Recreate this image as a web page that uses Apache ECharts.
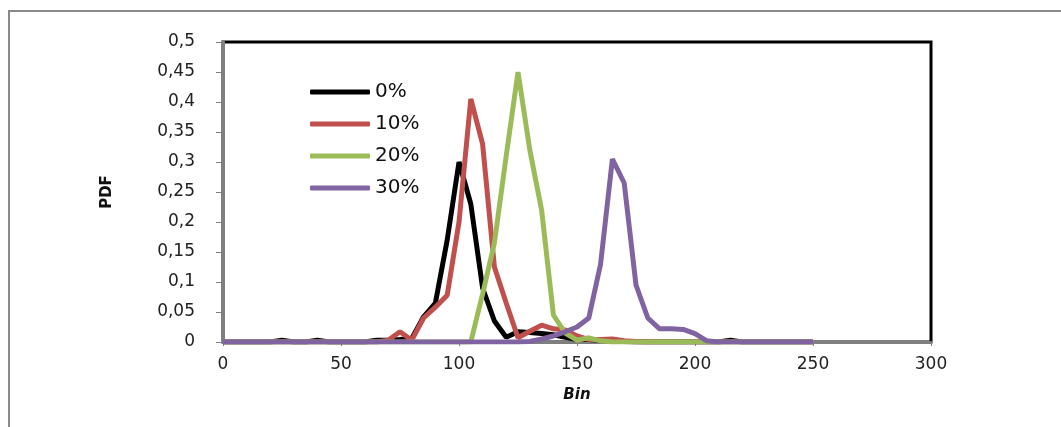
<!DOCTYPE html>
<html>
<head>
<meta charset="utf-8">
<script src="https://cdn.jsdelivr.net/npm/echarts@6/dist/echarts.min.js"></script>
<style>
  html, body { margin: 0; padding: 0; background: #fff; }
  #chart { width: 1061px; height: 427px; }
</style>
</head>
<body>
<div id="chart"></div>
<script>
// bins (x values)
var bins = [0, 5, 10, 15, 20, 25, 30, 35, 40, 45, 50, 55, 60, 65, 70, 75, 80, 85, 90, 95,
  100, 105, 110, 115, 120, 125, 130, 135, 140, 145, 150, 155, 160, 165, 170, 175, 180, 185, 190, 195,
  200, 205, 210, 215, 220, 225, 230, 235, 240, 245, 250];

// PDF values
var pdf0 = [0, 0, 0, 0, 0, 0.003, 0, 0, 0.003, 0, 0, 0, 0, 0.003, 0.003, 0.004, 0.006, 0.042, 0.065, 0.17,
  0.3, 0.23, 0.09, 0.035, 0.008, 0.017, 0.016, 0.014, 0.012, 0.008, 0.004, 0.004, 0.003, 0.002, 0.001, 0, 0, 0, 0, 0,
  0, 0, 0, 0.003, 0, 0, 0, 0, 0, 0, 0];
var pdf10 = [0, 0, 0, 0, 0, 0, 0, 0, 0, 0, 0, 0, 0, 0, 0.003, 0.017, 0.003, 0.04, 0.058, 0.078,
  0.2, 0.405, 0.33, 0.125, 0.065, 0.007, 0.018, 0.028, 0.022, 0.02, 0.01, 0.004, 0.004, 0.005, 0.002, 0.001, 0, 0, 0, 0,
  0, 0, 0, 0, 0, 0, 0, 0, 0, 0, 0];
var pdf20 = [0, 0, 0, 0, 0, 0, 0, 0, 0, 0, 0, 0, 0, 0, 0, 0, 0, 0, 0, 0,
  0, 0, 0.08, 0.165, 0.31, 0.45, 0.32, 0.22, 0.045, 0.015, 0.003, 0.007, 0.002, 0, 0, 0, 0, 0, 0, 0,
  0, 0, 0, 0, 0, 0, 0, 0, 0, 0, 0];
var pdf30 = [0, 0, 0, 0, 0, 0, 0, 0, 0, 0, 0, 0, 0, 0, 0, 0, 0, 0, 0, 0,
  0, 0, 0, 0, 0, 0, 0.001, 0.005, 0.01, 0.017, 0.025, 0.04, 0.13, 0.305, 0.265, 0.095, 0.04, 0.022, 0.022, 0.021,
  0.014, 0.002, 0, 0, 0, 0, 0, 0, 0, 0, 0];

var names = ['0%', '10%', '20%', '30%'];
var colors = ['#000000', '#c0504d', '#9bbb59', '#8064a2'];

function pairs(vals) {
  return bins.map(function (b, i) { return [b, vals[i]]; });
}

var font = "'DejaVu Sans', sans-serif";

var chart = echarts.init(document.getElementById('chart'));
chart.setOption({
  animation: false,
  backgroundColor: '#fff',
  color: colors,
  graphic: [{
    type: 'rect',
    shape: { x: 9, y: 11, width: 1200, height: 600 },
    style: { fill: 'none', stroke: '#8a8a8a', lineWidth: 2 }
  }],
  grid: {
    left: 223, right: 130, top: 42, bottom: 85,
    show: true, borderColor: '#000', borderWidth: 3
  },
  legend: {
    orient: 'vertical',
    left: 305, top: 76,
    icon: 'roundRect',
    itemWidth: 60, itemHeight: 5, itemGap: 10,
    data: names,
    textStyle: { fontFamily: font, fontSize: 20, color: '#111', lineHeight: 22 }
  },
  xAxis: {
    type: 'value', min: 0, max: 300, interval: 50,
    name: 'Bin', nameLocation: 'middle', nameGap: 46,
    nameTextStyle: { fontFamily: font, fontSize: 15, fontWeight: 'bold', fontStyle: 'italic', color: '#111' },
    axisLine: { lineStyle: { color: '#7f7f7f', width: 2 } },
    axisTick: { show: true, length: 4, lineStyle: { color: '#7f7f7f' } },
    axisLabel: { fontFamily: font, fontSize: 17, color: '#222', margin: 14 },
    splitLine: { show: false }
  },
  yAxis: {
    type: 'value', min: 0, max: 0.5, interval: 0.05,
    name: 'PDF', nameLocation: 'middle', nameGap: 108, nameRotate: 90,
    nameTextStyle: { fontFamily: font, fontSize: 15, fontWeight: 'bold', color: '#111' },
    axisLine: { show: true, lineStyle: { color: '#7f7f7f', width: 4 } },
    axisTick: { show: true, length: 7, lineStyle: { color: '#7f7f7f' } },
    axisLabel: {
      fontFamily: font, fontSize: 17, color: '#222', margin: 28,
      formatter: function (v) { return String(+v.toFixed(2)).replace('.', ','); }
    },
    splitLine: { show: false }
  },
  series: names.map(function (n, k) {
    var vals = [pdf0, pdf10, pdf20, pdf30][k];
    return {
      name: n,
      type: 'line',
      data: pairs(vals),
      symbol: 'none',
      lineStyle: { width: 5, color: colors[k] },
      itemStyle: { color: colors[k] }
    };
  })
});
</script>
</body>
</html>
